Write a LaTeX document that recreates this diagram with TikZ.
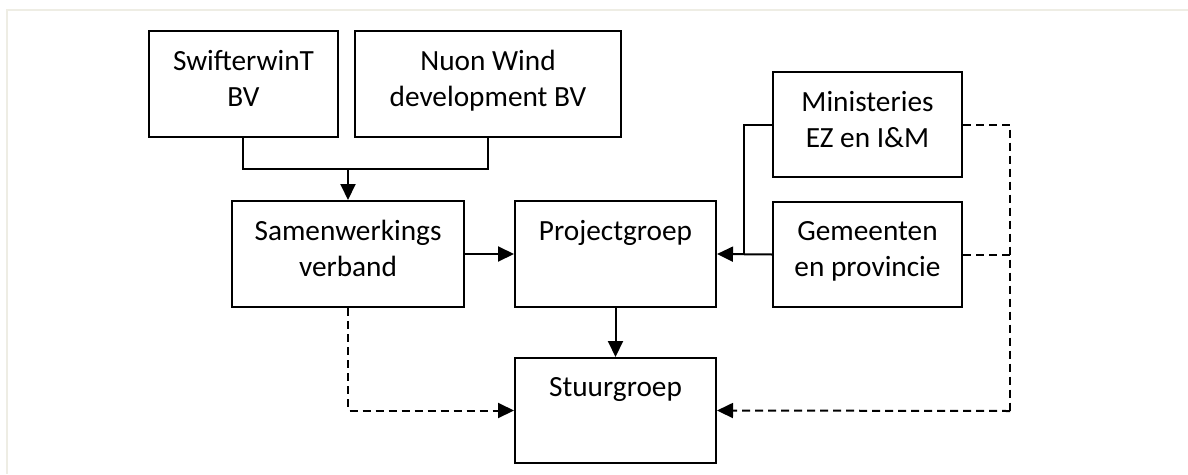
\documentclass[tikz,border=0pt]{standalone}
\usepackage{fontspec}
\setmainfont{Carlito}
\usetikzlibrary{arrows.meta}
\definecolor{framecol}{HTML}{EEEDE4}
\tikzset{
  box/.style={draw=black, line width=2pt, rectangle, inner sep=0pt, minimum width=#1},
  box/.default=189pt,
  txt/.style={align=center, inner sep=0pt, font=\fontsize{29.3}{36}\selectfont},
  conn/.style={draw=black, line width=2pt},
  tip/.style={-{Triangle[length=16pt,width=15pt]}},
  arr/.style={conn, tip},
  dsh/.style={conn, dash pattern=on 8pt off 5pt},
}
\begin{document}
\begin{tikzpicture}[x=1pt,y=-1pt]
\useasboundingbox (0,0) rectangle (1188,474);
\draw[framecol, line width=2pt] (7,474) -- (7,10) -- (1188,10);
% boxes
\node[box=189pt, minimum height=106pt] (swift) at (243.5,84) {};
\node[box=266pt, minimum height=106pt] (nuon) at (488,84) {};
\node[box=232pt, minimum height=106pt] (samen) at (348,254) {};
\node[box=201pt, minimum height=106pt] (proj) at (615.5,254) {};
\node[box=201pt, minimum height=105pt] (stuur) at (615.5,410.5) {};
\node[box=189pt, minimum height=105pt] (mini) at (867.5,124.5) {};
\node[box=189pt, minimum height=105pt] (gem) at (867.5,254.5) {};
% texts
\node[txt, anchor=north] (tswift) at ([yshift=-20pt]swift.north) {SwifterwinT\\BV};
\node[txt, anchor=north] (tnuon) at ([yshift=-20pt]nuon.north) {Nuon Wind\\development BV};
\node[txt, anchor=north] (tsamen) at ([yshift=-20pt]samen.north) {Samenwerkings\\verband};
\node[txt, anchor=north] (tproj) at ([yshift=-20pt]proj.north) {Projectgroep};
\node[txt, anchor=north] (tstuur) at ([yshift=-20pt]stuur.north) {Stuurgroep};
\node[txt, anchor=north] (tmini) at ([yshift=-20pt]mini.north) {Ministeries\\EZ en I\&M};
\node[txt, anchor=north] (tgem) at ([yshift=-20pt]gem.north) {Gemeenten\\en provincie};
% coordinates
\coordinate (j1) at (348,169);
\coordinate (jr) at (744,254);
\coordinate (dr) at (1010,411);
% connectors
\draw[conn] ([xshift=-0.5pt]swift.south) |- (j1) -| (nuon.south);
\draw[arr] (j1) -- (samen.north);
\draw[arr] (samen.east) -- (proj.west);
\draw[conn] (mini.west) -| (jr);
\draw[arr] (gem.west) -- (proj.east);
\draw[arr] (proj.south) -- (stuur.north);
\draw[dsh, tip] (samen.south) |- (stuur.west);
\draw[dsh] (mini.east) -| (dr);
\draw[dsh, tip] (dr) -- (stuur.east);
\draw[dsh] (gem.east) -- (1010,254.5);
\end{tikzpicture}
\end{document}
